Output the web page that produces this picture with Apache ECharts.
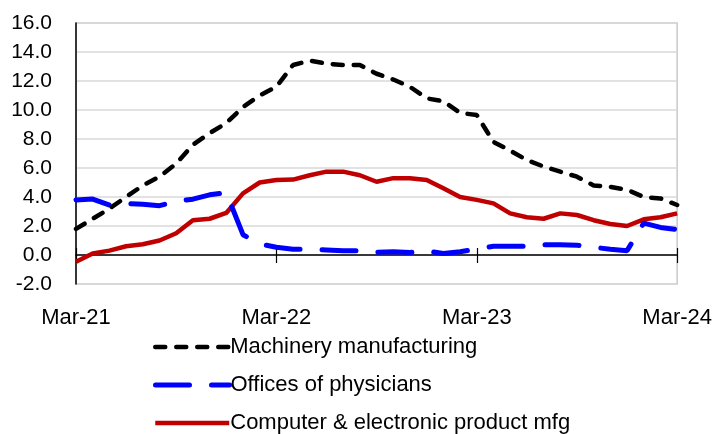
<!DOCTYPE html>
<html>
<head>
<meta charset="utf-8">
<script src="https://cdn.jsdelivr.net/npm/echarts@6/dist/echarts.min.js"></script>
<style>
html,body{margin:0;padding:0;background:#fff;}
#chart{width:715px;height:434px;}
</style>
</head>
<body>
<div id="chart"></div>
<script>
const categories = [
  "Mar-21","Apr-21","May-21","Jun-21","Jul-21","Aug-21","Sep-21","Oct-21","Nov-21","Dec-21","Jan-22","Feb-22",
  "Mar-22","Apr-22","May-22","Jun-22","Jul-22","Aug-22","Sep-22","Oct-22","Nov-22","Dec-22","Jan-23","Feb-23",
  "Mar-23","Apr-23","May-23","Jun-23","Jul-23","Aug-23","Sep-23","Oct-23","Nov-23","Dec-23","Jan-24","Feb-24",
  "Mar-24"
];
const machinery = [
  1.8, 2.5, 3.2, 4.0, 4.8, 5.4, 6.3, 7.6, 8.4, 9.1, 10.2, 11.0,
  11.6, 13.1, 13.4, 13.2, 13.1, 13.1, 12.5, 12.1, 11.6, 10.8, 10.6, 9.8,
  9.65, 7.8, 7.2, 6.55, 6.1, 5.75, 5.4, 4.8, 4.7, 4.5, 4.0, 3.9,
  3.45
];
const physicians = [
  3.8, 3.86, 3.45, 3.55, 3.5, 3.4, 3.7, 3.85, 4.15, 4.3, 1.4, 0.76,
  0.53, 0.4, 0.4, 0.35, 0.3, 0.3, 0.18, 0.23, 0.18, 0.28, 0.1, 0.23,
  0.4, 0.6, 0.6, 0.6, 0.7, 0.7, 0.68, 0.53, 0.4, 0.3, 2.2, 1.9,
  1.75
];
const computer = [
  -0.46, 0.1, 0.3, 0.6, 0.74, 1.0, 1.5, 2.4, 2.5, 2.9, 4.25, 5.0,
  5.17, 5.2, 5.5, 5.75, 5.75, 5.5, 5.05, 5.3, 5.3, 5.17, 4.6, 4.0,
  3.8, 3.56, 2.87, 2.6, 2.5, 2.87, 2.76, 2.4, 2.14, 2.0, 2.46, 2.6,
  2.87
];
const seriesNames = ["Machinery manufacturing", "Offices of physicians", "Computer & electronic product mfg"];

const FONT = "Liberation Sans";
const chart = echarts.init(document.getElementById('chart'), null, {renderer: 'canvas'});

function legendAt(name, top, lw) {
  return {
    data: [name],
    left: 148,
    top: top,
    orient: 'vertical',
    itemWidth: 74,
    itemHeight: 14,
    itemGap: 0,
    selectedMode: false,
    itemStyle: {opacity: 0},
    lineStyle: {width: lw},
    textStyle: {fontFamily: FONT, fontSize: 22, color: '#000', padding: [0, 0, 0, -4]}
  };
}

chart.setOption({
  animation: false,
  backgroundColor: '#fff',
  grid: {
    left: 76, right: 36, top: 23, bottom: 150,
    show: true, borderColor: '#c8c8c8', borderWidth: 1.5
  },
  legend: [
    legendAt(seriesNames[0], 331, 4.5),
    legendAt(seriesNames[1], 369, 5),
    legendAt(seriesNames[2], 407, 4.5)
  ],
  xAxis: [
    {
      type: 'category', data: categories, boundaryGap: false, position: 'bottom',
      axisLine: {show: true, onZero: true, onZeroAxisIndex: 0, lineStyle: {color: '#000', width: 1.5}},
      axisTick: {show: true, interval: 11, length: 8, lineStyle: {color: '#000', width: 1.2}},
      axisLabel: {show: false},
      splitLine: {show: false}
    },
    {
      type: 'category', data: categories, boundaryGap: false, position: 'top',
      axisLine: {show: false, onZero: true, onZeroAxisIndex: 1},
      axisTick: {show: true, interval: 11, length: 7, lineStyle: {color: '#000', width: 1.2}},
      axisLabel: {show: false},
      splitLine: {show: false}
    },
    {
      type: 'category', data: categories, boundaryGap: false, position: 'bottom', offset: 0,
      axisLine: {show: false, onZero: false},
      axisTick: {show: false},
      axisLabel: {show: true, interval: 11, margin: 23, fontFamily: FONT, fontSize: 22, color: '#000'},
      splitLine: {show: false}
    }
  ],
  yAxis: [
    {
      type: 'value', min: -2, max: 16, interval: 2, position: 'left',
      axisLine: {show: true, onZero: false, lineStyle: {color: '#000', width: 1.5}},
      axisTick: {show: false},
      axisLabel: {
        margin: 24, fontFamily: FONT, fontSize: 21, color: '#000',
        formatter: v => v.toFixed(1)
      },
      splitLine: {show: true, lineStyle: {color: '#d9d9d9', width: 1.5}}
    },
    {
      type: 'value', min: -2, max: 16, interval: 2, position: 'right', show: false,
      axisLine: {show: false, onZero: false},
      splitLine: {show: false}
    }
  ],
  series: [
    {
      name: seriesNames[0], type: 'line', data: machinery, symbol: 'none', z: 3,
      itemStyle: {color: '#000'},
      lineStyle: {color: '#000', width: 4.5, type: [10, 11], cap: 'round'}
    },
    {
      name: seriesNames[1], type: 'line', data: physicians, symbol: 'none', z: 2,
      itemStyle: {color: '#0000ff'},
      lineStyle: {color: '#0000ff', width: 5, type: [34, 22], cap: 'round'}
    },
    {
      name: seriesNames[2], type: 'line', data: computer, symbol: 'none', z: 1,
      itemStyle: {color: '#c00000'},
      lineStyle: {color: '#c00000', width: 4.5}
    }
  ]
});
</script>
</body>
</html>
